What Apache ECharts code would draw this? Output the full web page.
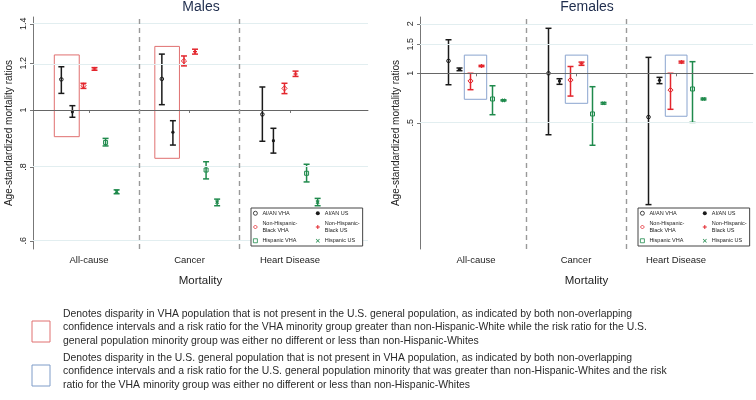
<!DOCTYPE html>
<html>
<head>
<meta charset="utf-8">
<script src="https://cdn.jsdelivr.net/npm/echarts@6/dist/echarts.min.js"></script>
<style>
  html, body { margin: 0; padding: 0; background: #fff; }
  #chart { width: 756px; height: 400px; }
</style>
</head>
<body>
<div id="chart"></div>
<script>
// categories and groups
var categories = ['All-cause', 'Cancer', 'Heart Disease'];
var groupNames = ['AI/AN VHA', 'AI/AN US', 'Non-Hispanic-\nBlack VHA', 'Non-Hispanic-\nBlack US', 'Hispanic VHA', 'Hispanic US'];

// males: [ratio, lower, upper] for All-cause, Cancer, Heart Disease
var maleAianVha = [[1.127, 1.067, 1.184], [1.129, 1.021, 1.244], [0.983, 0.885, 1.094]];
var maleAianUs = [[0.993, 0.972, 1.017], [0.917, 0.872, 0.959], [0.887, 0.845, 0.931]];
var maleBlackVha = [[1.100, 1.088, 1.110], [1.211, 1.188, 1.235], [1.088, 1.066, 1.110]];
var maleBlackUs = [[1.174, 1.168, 1.180], [1.256, 1.244, 1.268], [1.151, 1.140, 1.164]];
var maleHispVha = [[0.881, 0.869, 0.895], [0.791, 0.764, 0.817], [0.781, 0.755, 0.809]];
var maleHispUs = [[0.727, 0.721, 0.732], [0.698, 0.688, 0.706], [0.698, 0.688, 0.708]];

// females: [ratio, lower, upper]
var femaleAianVha = [[1.190, 0.852, 1.600], [1.000, 0.423, 1.878], [0.542, 0.159, 1.250]];
var femaleAianUs = [[1.058, 1.037, 1.077], [0.898, 0.857, 0.927], [0.906, 0.865, 0.945]];
var femaleBlackVha = [[0.898, 0.795, 1.000], [0.910, 0.727, 1.100], [0.791, 0.604, 1.000]];
var femaleBlackUs = [[1.108, 1.098, 1.118], [1.144, 1.118, 1.170], [1.170, 1.155, 1.185]];
var femaleHispVha = [[0.698, 0.560, 0.840], [0.566, 0.365, 0.829], [0.803, 0.503, 1.177]];
var femaleHispUs = [[0.685, 0.680, 0.690], [0.657, 0.650, 0.665], [0.698, 0.690, 0.706]];

// y ticks (log scale)
var maleTicks = [0.6, 0.8, 1, 1.2, 1.4];
var maleTickLabels = ['.6', '.8', '1', '1.2', '1.4'];
var femaleTicks = [0.5, 1, 1.5, 2];
var femaleTickLabels = ['.5', '1', '1.5', '2'];
var maleYRange = [0.581, 1.438];
var femaleYRange = [0.0854, 2.20];

// highlight boxes: [xFrom, xTo, ratioLow, ratioHigh]
var maleRedBoxes = [[0.655, 0.903, 0.901, 1.240], [1.655, 1.900, 0.828, 1.282]];
var femaleBlueBoxes = [[0.883, 1.107, 0.695, 1.290], [1.893, 2.117, 0.657, 1.290], [2.893, 3.110, 0.548, 1.290]];

var noteLines1 = [
    'Denotes disparity in VHA population that is not present in the U.S. general population, as indicated by both non-overlapping',
    'confidence intervals and a risk ratio for the VHA minority group greater than non-Hispanic-White while the risk ratio for the U.S.',
    'general population minority group was either no different or less than non-Hispanic-Whites'
];
var noteLines2 = [
    'Denotes disparity in the U.S. general population that is not present in VHA population, as indicated by both non-overlapping',
    'confidence intervals and a risk ratio for the U.S. general population minority that was greater than non-Hispanic-Whites and the risk',
    'ratio for the VHA minority group was either no different or less than non-Hispanic-Whites'
];

var groupOffsets = [-0.275, -0.165, -0.055, 0.055, 0.165, 0.275];
var groupColors = ['#1a1a1a', '#1a1a1a', '#e3262d', '#e3262d', '#1f8a4c', '#1f8a4c'];
var groupMarkers = ['circle', 'dot', 'diamond', 'plus', 'square', 'cross'];

var chart = echarts.init(document.getElementById('chart'));

function markerShape(kind, x, y, color) {
    var hollow = {fill: 'none', stroke: color, lineWidth: 1};
    var stroke = {stroke: color, lineWidth: 1.3};
    if (kind === 'circle') return [{type: 'circle', shape: {cx: x, cy: y, r: 1.8}, style: hollow}];
    if (kind === 'dot') return [{type: 'circle', shape: {cx: x, cy: y, r: 1.6}, style: {fill: color}}];
    if (kind === 'diamond') return [{type: 'polygon', shape: {points: [[x, y - 2.6], [x + 2.6, y], [x, y + 2.6], [x - 2.6, y]]}, style: hollow}];
    if (kind === 'square') return [{type: 'rect', shape: {x: x - 2, y: y - 2, width: 4, height: 4}, style: hollow}];
    if (kind === 'plus') return [
        {type: 'line', shape: {x1: x - 2, y1: y, x2: x + 2, y2: y}, style: stroke},
        {type: 'line', shape: {x1: x, y1: y - 2, x2: x, y2: y + 2}, style: stroke}
    ];
    return [
        {type: 'line', shape: {x1: x - 1.6, y1: y - 1.6, x2: x + 1.6, y2: y + 1.6}, style: stroke},
        {type: 'line', shape: {x1: x - 1.6, y1: y + 1.6, x2: x + 1.6, y2: y - 1.6}, style: stroke}
    ];
}

function makeRenderItem(g) {
    return function(params, api) {
        var x = api.value(0);
        var pMid = api.coord([x, api.value(1)]);
        var pLo = api.coord([x, api.value(2)]);
        var pHi = api.coord([x, api.value(3)]);
        var c = groupColors[g];
        var st = {stroke: c, lineWidth: 1.5};
        var children = [
            {type: 'line', shape: {x1: pLo[0], y1: pLo[1], x2: pHi[0], y2: pHi[1]}, style: st},
            {type: 'line', shape: {x1: pLo[0] - 3, y1: pLo[1], x2: pLo[0] + 3, y2: pLo[1]}, style: st},
            {type: 'line', shape: {x1: pHi[0] - 3, y1: pHi[1], x2: pHi[0] + 3, y2: pHi[1]}, style: st}
        ];
        return {type: 'group', children: children.concat(markerShape(groupMarkers[g], pMid[0], pMid[1], c))};
    };
}

function panelSeries(idx, dataList, ticks, boxes, boxColor) {
    var series = [];
    var lines = ticks.map(function(v) {
        return {yAxis: Math.log(v), lineStyle: v === 1 ? {color: '#666', width: 1, type: 'solid'} : {color: '#e2eef0', width: 1, type: 'solid'}};
    });
    lines.push({xAxis: 1.5}, {xAxis: 2.5});
    series.push({
        type: 'line', name: 'ref' + idx, xAxisIndex: idx, yAxisIndex: idx, data: [], z: 1,
        markLine: {
            silent: true, symbol: 'none', label: {show: false},
            lineStyle: {color: '#999', width: 1.4, type: [5, 4]},
            data: lines
        },
        markArea: {
            silent: true, label: {show: false},
            itemStyle: {color: 'rgba(0,0,0,0)', borderColor: boxColor, borderWidth: 1},
            data: boxes.map(function(b) {
                return [{coord: [b[0], Math.log(b[3])]}, {coord: [b[1], Math.log(b[2])]}];
            })
        }
    });
    dataList.forEach(function(d, g) {
        series.push({
            type: 'custom', name: groupNames[g], xAxisIndex: idx, yAxisIndex: idx, z: 3,
            itemStyle: {color: groupColors[g]},
            encode: {x: 0, y: [1, 2, 3]},
            renderItem: makeRenderItem(g),
            data: d.map(function(v, i) {
                return [i + 1 + groupOffsets[g], Math.log(v[0]), Math.log(v[1]), Math.log(v[2])];
            })
        });
    });
    return series;
}

function xAxisFor(idx, min, max) {
    return {
        gridIndex: idx, type: 'value', min: min, max: max,
        splitLine: {show: false},
        axisLine: {lineStyle: {color: '#777', width: 1}},
        axisTick: {show: true, length: 3, customValues: [1, 2, 3], lineStyle: {color: '#777'}},
        axisLabel: {
            customValues: [1, 2, 3], fontSize: 9.5, color: '#222', margin: 6,
            formatter: function(v) { return categories[Math.round(v) - 1]; }
        },
        name: 'Mortality', nameLocation: 'middle', nameGap: 26,
        nameTextStyle: {fontSize: 11.5, color: '#222'}
    };
}

function yAxisFor(idx, range, ticks, labels) {
    var logTicks = ticks.map(function(v) { return Math.log(v); });
    return {
        gridIndex: idx, type: 'value', min: Math.log(range[0]), max: Math.log(range[1]),
        splitLine: {show: false},
        axisLine: {show: true, lineStyle: {color: '#777', width: 1}},
        axisTick: {show: true, length: 3, customValues: logTicks, lineStyle: {color: '#777'}},
        axisLabel: {
            customValues: logTicks, rotate: 90, fontSize: 9, color: '#222', margin: 5,
            formatter: function(v) {
                var best = 0;
                logTicks.forEach(function(t, i) { if (Math.abs(t - v) < Math.abs(logTicks[best] - v)) best = i; });
                return labels[best];
            }
        },
        name: 'Age-standardized mortality ratios', nameLocation: 'middle', nameGap: 19,
        nameTextStyle: {fontSize: 10, color: '#222'}
    };
}

function legendFor(left) {
    var icons = {
        circle: 'circle', dot: 'circle', diamond: 'diamond', square: 'rect',
        plus: 'path://M3,0H5V3H8V5H5V8H3V5H0V3H3Z',
        cross: 'path://M1,0L4,3L7,0L8,1L5,4L8,7L7,8L4,5L1,8L0,7L3,4L0,1Z'
    };
    var order = [0, 2, 4, 1, 3, 5];
    return {
        orient: 'vertical', left: left, top: 208, height: 35, z: 10,
        padding: [2, 3, 2, 2], itemGap: 4, itemWidth: 4, itemHeight: 4,
        borderColor: '#444', borderWidth: 1, backgroundColor: '#fff',
        selectedMode: false,
        textStyle: {fontSize: 5.5, lineHeight: 6.5, color: '#222'},
        data: order.map(function(g, k) {
            var hollow = ['circle', 'diamond', 'square'].indexOf(groupMarkers[g]) >= 0;
            var item = {
                name: groupNames[g], icon: icons[groupMarkers[g]],
                itemStyle: hollow ? {color: 'rgba(0,0,0,0)', borderColor: groupColors[g], borderWidth: 0.8}
                                  : {color: groupColors[g], borderWidth: 0}
            };
            if (k < 3) item.textStyle = {width: 49};
            return item;
        })
    };
}

// fit the note text to the width it takes in the source figure
var noteFont = '10.5px "Liberation Sans", Arial, sans-serif';
var ctx = document.createElement('canvas').getContext('2d');
ctx.font = noteFont;
var noteScale = 569 / ctx.measureText(noteLines1[0]).width;
var noteStyle = {fontSize: 10.5, lineHeight: 13.5, fill: '#2a2a2a', fontFamily: '"Liberation Sans", Arial, sans-serif'};

var option = {
    animation: false,
    textStyle: {fontFamily: '"Liberation Sans", Arial, sans-serif'},
    grid: [
        {left: 33, top: 17, width: 335, height: 232},
        {left: 420, top: 17, width: 333, height: 232}
    ],
    xAxis: [xAxisFor(0, 0.443, 3.776), xAxisFor(1, 0.44, 3.77)],
    yAxis: [yAxisFor(0, maleYRange, maleTicks, maleTickLabels), yAxisFor(1, femaleYRange, femaleTicks, femaleTickLabels)],
    legend: [legendFor(251), legendFor(638)],
    graphic: [
        {type: 'text', x: 201, y: 7, style: {text: 'Males', fontSize: 14, fill: '#1f2d4d', align: 'center', verticalAlign: 'middle'}},
        {type: 'text', x: 587, y: 7, style: {text: 'Females', fontSize: 14, fill: '#1f2d4d', align: 'center', verticalAlign: 'middle'}},
        {type: 'rect', shape: {x: 32, y: 321, width: 18, height: 21}, style: {fill: 'none', stroke: '#e07070', lineWidth: 1}},
        {type: 'rect', shape: {x: 32, y: 365, width: 18, height: 21}, style: {fill: 'none', stroke: '#7f9cc8', lineWidth: 1}},
        {type: 'text', x: 63, y: 307, scaleX: noteScale, style: Object.assign({text: noteLines1.join('\n')}, noteStyle)},
        {type: 'text', x: 63, y: 351, scaleX: noteScale, style: Object.assign({text: noteLines2.join('\n')}, noteStyle)}
    ],
    series: []
        .concat(panelSeries(0, [maleAianVha, maleAianUs, maleBlackVha, maleBlackUs, maleHispVha, maleHispUs], maleTicks, maleRedBoxes, '#e07070'))
        .concat(panelSeries(1, [femaleAianVha, femaleAianUs, femaleBlackVha, femaleBlackUs, femaleHispVha, femaleHispUs], femaleTicks, femaleBlueBoxes, '#8aa4cf'))
};

chart.setOption(option);
</script>
</body>
</html>
